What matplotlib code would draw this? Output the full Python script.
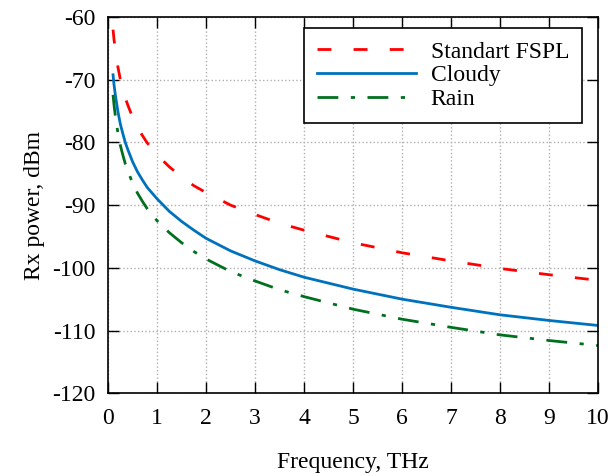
import matplotlib
matplotlib.use('Agg')
import matplotlib.pyplot as plt

plt.rcParams['font.family'] = ['Liberation Serif', 'DejaVu Serif']
plt.rcParams['axes.unicode_minus'] = False

freq = [0.1, 0.12, 0.15, 0.2, 0.25, 0.3, 0.35, 0.4, 0.5, 0.6, 0.7, 0.8,
        1, 1.25, 1.5, 1.75, 2, 2.5, 3, 3.5, 4, 5, 6, 7, 8, 9, 10]
fspl = [-62.0, -63.6, -65.5, -68.0, -70.0, -71.5, -72.9, -74.0, -76.0,
        -77.6, -78.9, -80.1, -82.0, -83.9, -85.5, -86.9, -88.0, -90.0,
        -91.5, -92.9, -94.0, -96.0, -97.6, -98.9, -100.1, -101.1, -102.0]
cloudy = [-69.2, -70.8, -72.6, -75.1, -77.1, -78.6, -80.0, -81.1, -83.1,
          -84.7, -86.0, -87.2, -89.0, -91.0, -92.6, -94.0, -95.3, -97.3,
          -98.9, -100.3, -101.5, -103.4, -105.0, -106.3, -107.5, -108.4,
          -109.2]
rain = [-72.4, -74.0, -76.0, -78.5, -80.5, -82.0, -83.4, -84.5, -86.5,
        -88.1, -89.4, -90.6, -92.5, -94.4, -96.0, -97.4, -98.6, -100.6,
        -102.1, -103.5, -104.6, -106.6, -108.2, -109.5, -110.7, -111.6,
        -112.4]

fig = plt.figure(figsize=(6.11, 4.76), dpi=100)
ax = fig.add_axes([0.177, 0.174, 0.802, 0.79])

ax.plot(freq, fspl, color='#FF0000', lw=2, dashes=(5, 8), label='Standart FSPL')
ax.plot(freq, cloudy, color='#0072BD', lw=2, label='Cloudy')
ax.plot(freq, rain, color='#00701F', lw=2, dashes=(7.5, 4.5, 1.5, 4.5), label='Rain')

ax.set_xlim(0, 10)
ax.set_ylim(-120, -60)
ax.set_xticks(range(0, 11))
ax.set_yticks(range(-120, -59, 10))
ax.tick_params(direction='in', length=8, width=1, top=True, right=True,
               labelsize=17)
ax.tick_params(axis='x', pad=11)
ax.tick_params(axis='y', pad=9)
ax.grid(True, linestyle=':', color='#b0b0b0', lw=1)
for s in ax.spines.values():
    s.set_linewidth(1.2)

ax.set_xlabel('Frequency, THz', fontsize=17, labelpad=16)
ax.set_ylabel('Rx power, dBm', fontsize=17, labelpad=5)

# legend box placed where the reference has it
leg = ax.legend(loc='upper right', bbox_to_anchor=(0.967, 0.971),
                borderaxespad=0, fontsize=17, handlelength=4.2,
                frameon=True, fancybox=False, edgecolor='black',
                framealpha=1, labelspacing=0.1,
                handletextpad=0.6, borderpad=0.55)
leg.get_frame().set_linewidth(1.2)

fig.savefig('out.png', dpi=100)
